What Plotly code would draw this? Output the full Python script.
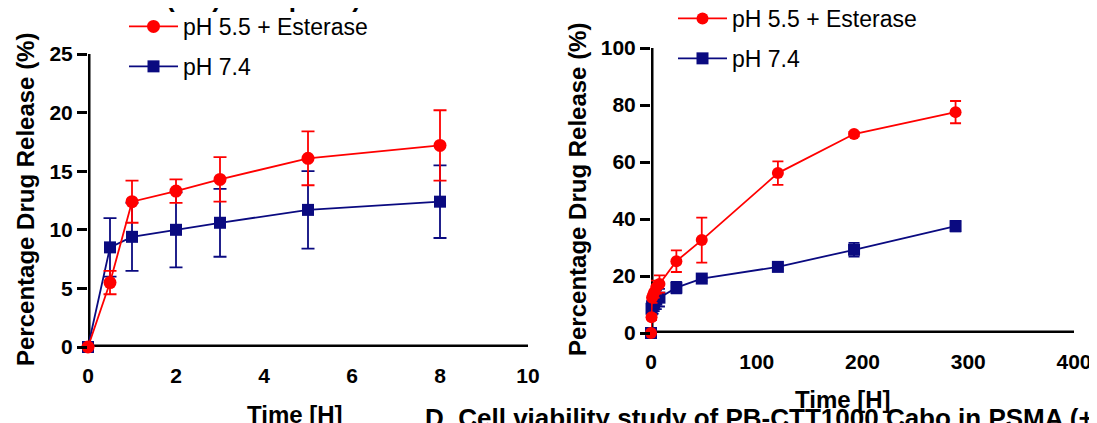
import plotly.graph_objects as go

# ---- data ----
t_short = [0, 0.5, 1, 2, 3, 5, 8]
red_short = [0, 5.5, 12.4, 13.3, 14.3, 16.1, 17.2]
red_short_err = [0, 1.0, 1.8, 1.0, 1.9, 2.3, 3.0]
blue_short = [0, 8.5, 9.4, 10.0, 10.6, 11.7, 12.4]
blue_short_err = [0, 2.5, 2.9, 3.2, 2.9, 3.3, 3.1]

t_long = [0, 0.5, 1, 2, 3, 5, 8, 24, 48, 120, 192, 288]
red_long = [0, 5.5, 12.4, 13.3, 14.3, 16.1, 17.2, 25.2, 32.6, 56.1, 69.8, 77.5]
red_long_err = [0, 1.0, 1.8, 1.0, 1.9, 2.3, 3.0, 3.8, 7.9, 4.1, 0.8, 3.9]
blue_long = [0, 8.5, 9.4, 10.0, 10.6, 11.7, 12.4, 15.9, 19.1, 23.2, 29.2, 37.5]
blue_long_err = [0, 2.5, 2.9, 3.2, 2.9, 3.3, 3.1, 2.0, 0.8, 0.8, 2.4, 1.8]

xticks_short = [0, 2, 4, 6, 8, 10]
yticks_short = [0, 5, 10, 15, 20, 25]
xticks_long = [0, 100, 200, 300, 400]
yticks_long = [0, 20, 40, 60, 80, 100]

name_red = "pH 5.5 + Esterase"
name_blue = "pH 7.4"
RED = "#FF0000"
BLUE = "#0A0A80"
FONT = "Arial, Liberation Sans, sans-serif"

# the page body has an 8px margin, so the figure starts at (8, 8) on the page
OFF = 8
W, H = 1089, 415

def px_x(p):
    return (p - OFF) / W

def px_y(p):
    return (H - (p - OFF)) / H

# subplot frames (page pixels)
L_X0, L_X1, L_Y0, L_Y1 = 88, 528, 347, 54
R_X0, R_X1, R_Y0, R_Y1 = 651, 1074, 333, 48
TICK_PX = 12

fig = go.Figure()

def add_frame(xt, yt, xa, ya, y0px, y1px):
    """Axis frame lines and x tick marks, drawn on the subplot's own scale."""
    frame = dict(color="#000000", width=5)
    fig.add_trace(go.Scatter(x=[xt[0], xt[-1]], y=[yt[0], yt[0]], mode="lines",
                             line=frame, xaxis=xa, yaxis=ya, showlegend=False,
                             hoverinfo="skip", cliponaxis=False))
    fig.add_trace(go.Scatter(x=[xt[0], xt[0]], y=[yt[0], yt[-1]], mode="lines",
                             line=frame, xaxis=xa, yaxis=ya, showlegend=False,
                             hoverinfo="skip", cliponaxis=False))
    tick_len = TICK_PX * (yt[-1] - yt[0]) / (y0px - y1px)
    fig.add_trace(go.Scatter(
        x=xt, y=[yt[0]] * len(xt), mode="markers",
        marker=dict(size=1, color="rgba(0,0,0,0)"),
        error_y=dict(type="data", symmetric=False, array=[0] * len(xt),
                     arrayminus=[tick_len] * len(xt), width=0, thickness=2.5,
                     color="#000000"),
        xaxis=xa, yaxis=ya, showlegend=False, hoverinfo="skip", cliponaxis=False))

add_frame(xticks_short, yticks_short, "x", "y", L_Y0, L_Y1)
add_frame(xticks_long, yticks_long, "x2", "y2", R_Y0, R_Y1)

def add(x, y, e, name, color, symbol, xa, ya, leg, size, capw, rank):
    fig.add_trace(go.Scatter(
        x=x, y=y, name=name, mode="lines+markers",
        line=dict(color=color, width=1.8),
        marker=dict(color=color, symbol=symbol, size=size),
        error_y=dict(type="data", array=e, visible=True, color=color,
                     thickness=1.8, width=capw),
        xaxis=xa, yaxis=ya, legend=leg, legendgroup=name + leg,
        legendrank=rank, cliponaxis=False,
    ))

# blue first so red is drawn on top; legendrank puts red first in the legend
add(t_short, blue_short, blue_short_err, name_blue, BLUE, "square", "x", "y", "legend", 12, 6.5, 2)
add(t_short, red_short, red_short_err, name_red, RED, "circle", "x", "y", "legend", 13, 6.5, 1)
add(t_long, blue_long, blue_long_err, name_blue, BLUE, "square", "x2", "y2", "legend2", 12, 5.5, 2)
add(t_long, red_long, red_long_err, name_red, RED, "circle", "x2", "y2", "legend2", 12, 5.5, 1)

tickfont = dict(family=FONT, size=21, color="black", weight="bold")
xaxis_common = dict(showline=False, ticks="", ticklabelstandoff=14, showgrid=False,
                    zeroline=False, tickfont=tickfont)
yaxis_common = dict(showline=False, ticks="outside", ticklen=10, tickwidth=2.5,
                    tickcolor="#000000", showgrid=False, zeroline=False, tickfont=tickfont)

legend_common = dict(xanchor="left", yanchor="top", bgcolor="rgba(0,0,0,0)",
                     itemwidth=49, tracegroupgap=7, traceorder="grouped",
                     font=dict(family=FONT, size=23, color="black"))

fig.update_layout(
    width=W, height=H,
    margin=dict(l=0, r=0, t=0, b=0, autoexpand=False),
    paper_bgcolor="white", plot_bgcolor="white",
    xaxis=dict(domain=[px_x(L_X0), px_x(L_X1)], range=[xticks_short[0], xticks_short[-1]],
               tickvals=xticks_short, anchor="y", **xaxis_common),
    yaxis=dict(domain=[px_y(L_Y0), px_y(L_Y1)], range=[yticks_short[0], yticks_short[-1]],
               tickvals=yticks_short, anchor="x", **yaxis_common),
    xaxis2=dict(domain=[px_x(R_X0), px_x(R_X1)], range=[xticks_long[0], xticks_long[-1]],
                tickvals=xticks_long, anchor="y2", **xaxis_common),
    yaxis2=dict(domain=[px_y(R_Y0), px_y(R_Y1)], range=[yticks_long[0], yticks_long[-1]],
                tickvals=yticks_long, anchor="x2", **yaxis_common),
    legend=dict(x=px_x(124), y=px_y(5), **legend_common),
    legend2=dict(x=px_x(673), y=px_y(-3), **legend_common),
    showlegend=True,
)

title_font = dict(family=FONT, size=24, color="black", weight="bold")
head_font = dict(family=FONT, size=26, color="black", weight="bold")

annots = [
    dict(text="Percentage Drug Release (%)", x=px_x(26), y=px_y(200), textangle=-90, font=title_font),
    dict(text="Percentage Drug Release (%)", x=px_x(577), y=px_y(190), textangle=-90, font=title_font),
    dict(text="Time [H]", x=px_x(295), y=px_y(414), font=title_font),
    dict(text="Time [H]", x=px_x(843), y=px_y(399), font=title_font),
    dict(text="(8 h) time point)", x=px_x(263), y=px_y(-2), font=head_font),
    dict(text="D. Cell viability study of PB-CTT1000 Cabo in PSMA (+)", x=px_x(423),
         y=px_y(418), xanchor="left", font=head_font),
]
for a in annots:
    a.setdefault("xanchor", "center")
    fig.add_annotation(xref="paper", yref="paper", showarrow=False, yanchor="middle", **a)

fig.write_html("out.html")
